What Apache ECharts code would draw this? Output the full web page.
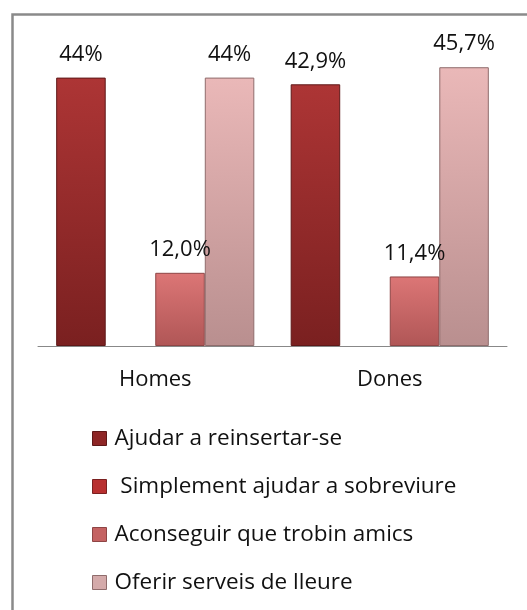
<!DOCTYPE html>
<html><head><meta charset="utf-8">
<script src="https://cdn.jsdelivr.net/npm/echarts@6/dist/echarts.min.js"></script>
<style>html,body{margin:0;padding:0;background:#fff}#c{width:527px;height:610px}</style>
</head><body><div id="c"></div>
<script>
const categories = ['Homes', 'Dones'];
const seriesNames = ['Ajudar a reinsertar-se', ' Simplement ajudar a sobreviure', 'Aconseguir que trobin amics', 'Oferir serveis de lleure'];
const ajudarReinsertar = [44, 42.9];
const simplementSobreviure = [0, 0];
const aconseguirAmics = [12.0, 11.4];
const oferirLleure = [44, 45.7];
const labelsReinsertar = ['44%', '42,9%'];
const labelsSobreviure = ['', ''];
const labelsAmics = ['12,0%', '11,4%'];
const labelsLleure = ['44%', '45,7%'];

const values = [ajudarReinsertar, simplementSobreviure, aconseguirAmics, oferirLleure];
const labels = [labelsReinsertar, labelsSobreviure, labelsAmics, labelsLleure];
const styles = [
  {top: '#ad3535', bottom: '#7a2020', border: '#5e1818', legend: '#8e2626'},
  {top: '#c83a32', bottom: '#9c2a24', border: '#7a2020', legend: '#b83030'},
  {top: '#dc7676', bottom: '#b05656', border: '#8e4545', legend: '#c46262'},
  {top: '#eab8b8', bottom: '#b98f8f', border: '#8f6c6c', legend: '#d4aaaa'}
];
const grad = (s) => new echarts.graphic.LinearGradient(0, 0, 0, 1, [
  {offset: 0, color: s.top}, {offset: 1, color: s.bottom}
]);

const chart = echarts.init(document.getElementById('c'));
chart.setOption({
  animation: false,
  backgroundColor: '#fff',
  graphic: [{
    type: 'rect', left: 10, top: 12, shape: {width: 540, height: 620},
    style: {fill: 'none', stroke: '#8a8a8a', lineWidth: 2.5}, z: -10
  }],
  grid: {left: 38, right: 20, top: 41, bottom: 264},
  legend: {
    orient: 'vertical', left: 92, top: 427, padding: 0, height: 183,
    itemWidth: 14, itemHeight: 14, itemGap: 25,
    textStyle: {fontFamily: 'Open Sans', fontSize: 22.5, color: '#111', padding: [0, 0, 0, 3]},
    data: seriesNames.map((n, i) => ({name: n, icon: 'rect', itemStyle: {color: styles[i].legend, borderColor: styles[i].border, borderWidth: 1}}))
  },
  xAxis: {
    type: 'category', data: categories,
    axisLine: {lineStyle: {color: '#888', width: 1}},
    axisTick: {show: false},
    axisLabel: {fontFamily: 'Open Sans', fontSize: 22, color: '#111', margin: 23}
  },
  yAxis: {type: 'value', min: 0, max: 50, show: false, splitLine: {show: false}},
  series: values.map((v, i) => ({
    name: seriesNames[i], type: 'bar', data: v,
    barGap: '0%', barCategoryGap: '15.5%',
    itemStyle: {color: grad(styles[i]), borderColor: styles[i].border, borderWidth: i === 1 ? 0 : 1},
    label: {
      show: true, position: 'top', distance: 12,
      fontFamily: 'Open Sans', fontSize: 22, color: '#111',
      formatter: (p) => labels[i][p.dataIndex]
    }
  }))
});
</script></body></html>
